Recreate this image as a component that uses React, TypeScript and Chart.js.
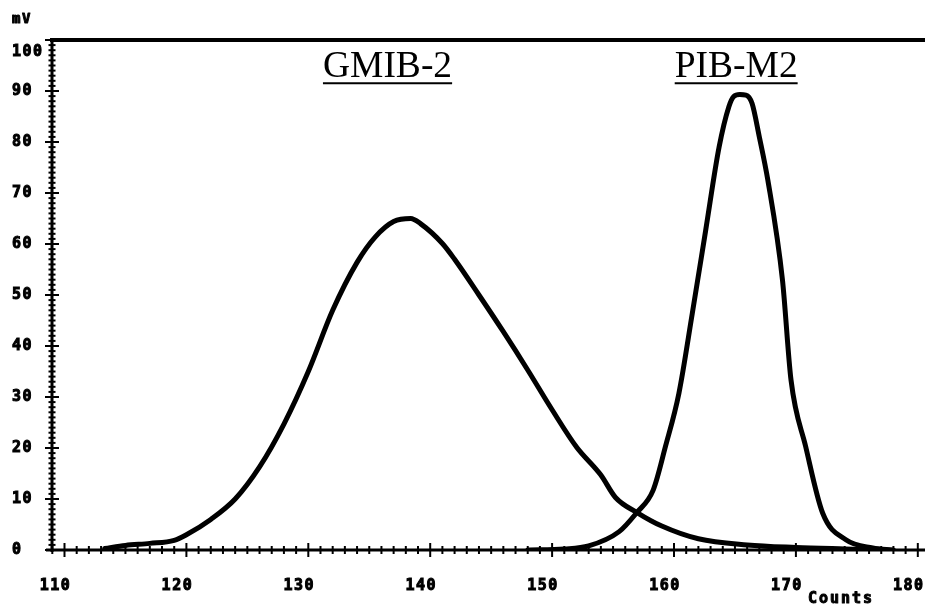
import React, { useEffect, useRef } from "react";
import { Chart, registerables } from "chart.js";

Chart.register(...registerables);

// ---- data ----
const GMIB_X = [113.3, 115, 117, 119, 120, 122, 124, 126, 128, 130, 132, 134, 135.5, 137, 138.4, 139.2, 141, 142, 144, 146, 148, 150, 152, 154, 155.2, 157, 159, 162, 166, 170, 174, 177];
const GMIB_Y = [0.3, 0.9, 1.3, 1.9, 3, 6, 10, 16.3, 24.7, 35, 47, 56.4, 61.4, 64.4, 65, 64, 60.1, 57, 50, 42.8, 35.3, 27.5, 20.2, 14.7, 10.3, 7.3, 4.7, 2.2, 1.0, 0.5, 0.2, 0];

const PIB_X = [148, 151, 153, 155.5, 156.9, 158.3, 159.3, 160.4, 161.5, 162.6, 163.7, 164.5, 164.9, 165.4, 165.9, 166.4, 167.0, 167.7, 168.9, 169.6, 170.8, 172.2, 174.1, 176.3, 178];
const PIB_Y = [0, 0.2, 0.8, 3.6, 7.2, 11.8, 20.3, 30.7, 46.4, 62.7, 79, 86.9, 88.9, 89.3, 89.2, 87.6, 81, 72.5, 52.9, 33.3, 20.3, 7.2, 2, 0.4, 0];

const SERIES_NAMES = ["GMIB-2", "PIB-M2"];
const NAME_X = [136.5, 165.1];
const NAME_Y = 92.7;

const X_TICKS = [110, 120, 130, 140, 150, 160, 170, 180];
const Y_TICKS = [0, 10, 20, 30, 40, 50, 60, 70, 80, 90, 100];
const X_MIN = 108.975;
const X_MAX = 180.59;
const Y_MIN = 0;
const Y_MAX = 100;

const Y_UNIT = "mV";
const X_UNIT = "Counts";

const MONO = '"DejaVu Sans Mono", monospace';

const decor = {
  id: "decor",
  beforeDraw(chart: any) {
    chart.ctx.letterSpacing = "1.5px";
  },
  afterDatasetsDraw(chart: any) {
    const { ctx, chartArea: a, scales } = chart;
    const x = scales.x;
    const y = scales.y;
    const ln = (x1: number, y1: number, x2: number, y2: number) => {
      ctx.beginPath();
      ctx.moveTo(x1, y1);
      ctx.lineTo(x2, y2);
      ctx.stroke();
    };
    ctx.save();
    ctx.strokeStyle = "#000";
    ctx.fillStyle = "#000";
    ctx.lineCap = "butt";
    // axes
    ctx.lineWidth = 3;
    ln(a.left, a.top, a.left, a.bottom + 2);
    ln(a.left - 6, a.bottom, a.right, a.bottom);
    ctx.lineWidth = 4;
    ln(a.left - 2, a.top, a.right, a.top);
    // y ticks
    ctx.lineWidth = 2;
    for (let v = Math.ceil(y.min); v <= y.max; v++) {
      const py = y.getPixelForValue(v);
      const len = v % 10 === 0 ? 7 : 3.5;
      ln(a.left - len, py, a.left + len, py);
    }
    // x ticks
    for (let v = Math.ceil(x.min); v <= Math.floor(x.max); v++) {
      const px = x.getPixelForValue(v);
      const len = v % 10 === 0 ? 7 : 4;
      ln(px, a.bottom - len, px, a.bottom + len);
    }
    // unit labels
    ctx.lineWidth = 1;
    ctx.lineJoin = "round";
    ctx.letterSpacing = "1.5px";
    ctx.font = `bold 14px ${MONO}`;
    ctx.textAlign = "left";
    ctx.textBaseline = "middle";
    ctx.fillText(Y_UNIT, 12, 19);
    ctx.strokeText(Y_UNIT, 12, 19);
    ctx.letterSpacing = "2px";
    ctx.font = `bold 15px ${MONO}`;
    ctx.textAlign = "center";
    ctx.fillText(X_UNIT, 841, 599);
    ctx.strokeText(X_UNIT, 841, 599);
    // series names with underline
    ctx.letterSpacing = "0px";
    ctx.font = `37.5px "Liberation Serif", "Times New Roman", serif`;
    ctx.textAlign = "center";
    ctx.textBaseline = "alphabetic";
    ctx.lineWidth = 2;
    SERIES_NAMES.forEach((name, i) => {
      const px = x.getPixelForValue(NAME_X[i]);
      const py = y.getPixelForValue(NAME_Y);
      ctx.fillText(name, px, py);
      const w = ctx.measureText(name).width;
      ln(px - w / 2, py + 6, px + w / 2, py + 6);
    });
    ctx.restore();
  },
};

export default function App() {
  const ref = useRef<HTMLCanvasElement | null>(null);
  useEffect(() => {
    if (!ref.current) return;
    const toPts = (xs: number[], ys: number[]) => xs.map((v, i) => ({ x: v, y: ys[i] }));
    const lineStyle = {
      borderColor: "#000",
      borderWidth: 5,
      pointRadius: 0,
      fill: false,
      cubicInterpolationMode: "monotone" as const,
      borderJoinStyle: "round" as const,
      borderCapStyle: "round" as const,
    };
    const tickFont = { family: MONO, size: 15, weight: "bold" as const };
    const chart = new Chart(ref.current, {
      type: "line",
      data: {
        datasets: [
          { label: SERIES_NAMES[0], data: toPts(GMIB_X, GMIB_Y), ...lineStyle },
          { label: SERIES_NAMES[1], data: toPts(PIB_X, PIB_Y), ...lineStyle },
        ],
      },
      options: {
        responsive: false,
        animation: false,
        devicePixelRatio: 1,
        layout: { padding: { left: 12, top: 40, right: 0, bottom: 0 } },
        plugins: { legend: { display: false }, tooltip: { enabled: false }, title: { display: false } },
        scales: {
          x: {
            type: "linear",
            position: "bottom",
            min: X_MIN,
            max: X_MAX,
            afterBuildTicks: (s: any) => {
              s.ticks = X_TICKS.map((v) => ({ value: v }));
            },
            afterFit: (s: any) => {
              s.height = 56;
              s.paddingLeft = 0;
              s.paddingRight = 0;
            },
            grid: { display: false, drawTicks: false },
            border: { display: false },
            ticks: {
              color: "#000",
              padding: 27,
              labelOffset: -9,
              maxRotation: 0,
              autoSkip: false,
              textStrokeWidth: 1,
              textStrokeColor: "#000",
              font: tickFont,
              callback: (v: any) => String(v),
            },
          },
          y: {
            type: "linear",
            position: "left",
            min: Y_MIN,
            max: Y_MAX,
            afterBuildTicks: (s: any) => {
              s.ticks = Y_TICKS.map((v) => ({ value: v }));
            },
            afterFit: (s: any) => {
              s.width = 40;
            },
            grid: { display: false, drawTicks: false },
            border: { display: false },
            ticks: {
              color: "#000",
              padding: 0,
              crossAlign: "far",
              autoSkip: false,
              textStrokeWidth: 1,
              textStrokeColor: "#000",
              font: (c: any) =>
                c.tick && c.tick.value === Y_MAX ? { ...tickFont, lineHeight: 1.6 } : tickFont,
              callback: (v: any) => (v === Y_MAX ? ["", String(v)] : String(v)),
            },
          },
        },
      },
      plugins: [decor],
    });
    return () => chart.destroy();
  }, []);
  return (
    <div style={{ position: "fixed", left: 0, top: 0, width: 925, height: 606, background: "#fff" }}>
      <canvas ref={ref} width={925} height={606} style={{ width: 925, height: 606, display: "block" }} />
    </div>
  );
}
